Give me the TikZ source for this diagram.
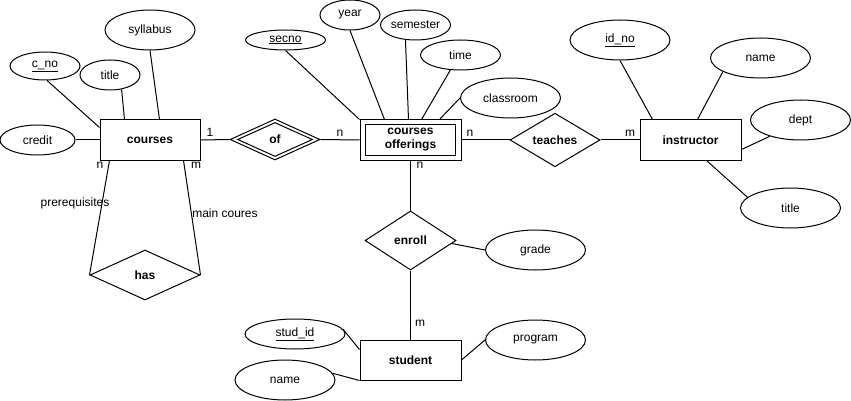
\documentclass[tikz,border=0pt]{standalone}
\usepackage{fontspec}
\setmainfont{Liberation Sans}
\usetikzlibrary{shapes.geometric,calc}
\newcommand\erfont{\fontsize{12}{14}\selectfont}
\tikzset{
  ent/.style={draw, rectangle, minimum width=100pt, minimum height=40pt, inner sep=0pt, font=\erfont\bfseries, align=center},
  attr/.style={draw, ellipse, inner sep=0pt, font=\erfont},
  rel/.style={draw, diamond, inner sep=0pt, font=\erfont\bfseries},
  lbl/.style={inner sep=0pt, font=\erfont},
  every path/.style={line width=1pt},
}
\begin{document}
\begin{tikzpicture}[x=1pt,y=-1pt]
\useasboundingbox (0,0) rectangle (851,401);
% entities
\node[ent] (courses) at (150,140) {courses};
\node[ent, minimum width=101pt] (offer) at (410.5,140) {courses\\offerings};
\node[draw, rectangle, minimum width=90pt, minimum height=30pt, inner sep=0pt] (offerin) at (410.5,140) {};
\node[ent, minimum width=101pt] (instr) at (690.5,140) {instructor};
\node[ent, minimum width=101pt] (student) at (410.5,360) {student};
% relationships
\node[rel, minimum width=90pt, minimum height=41pt] (of) at (275,139.5) {};
\node[rel, minimum width=75pt, minimum height=34pt, font=\erfont\bfseries] (ofin) at (275,139.5) {of};
\node[rel, minimum width=90pt, minimum height=40pt] (teaches) at (555,140) {teaches};
\node[rel, minimum width=91pt, minimum height=59pt] (enroll) at (410.5,240.5) {enroll};
\node[rel, minimum width=110pt, minimum height=50pt] (has) at (145,275) {has};
% attributes of courses
\node[attr, minimum width=75pt, minimum height=30pt] (credit) at (37.5,140) {credit};
\node[attr, minimum width=70pt, minimum height=28pt] (cno) at (45,66) {\underline{c\_no}};
\node[attr, minimum width=60pt, minimum height=30pt] (title) at (110,75) {title};
\node[attr, minimum width=90pt, minimum height=40pt] (syllabus) at (150,30) {syllabus};
% attributes of offerings
\node[attr, minimum width=80pt, minimum height=20pt] (secno) at (285.5,40) {\underline{secno}};
\node[attr, minimum width=60pt, minimum height=30pt] (year) at (350,15) {year};
\node[attr, minimum width=70pt, minimum height=30pt] (semester) at (415.5,25) {semester};
\node[attr, minimum width=80pt, minimum height=30pt] (time) at (460.5,55) {time};
\node[attr, minimum width=100pt, minimum height=40pt] (classroom) at (510.5,98) {classroom};
% attributes of instructor
\node[attr, minimum width=100pt, minimum height=40pt] (idno) at (620,40) {\underline{id\_no}};
\node[attr, minimum width=100pt, minimum height=40pt] (iname) at (760.5,58) {name};
\node[attr, minimum width=100pt, minimum height=40pt] (dept) at (800.5,120) {dept};
\node[attr, minimum width=100pt, minimum height=40pt] (ititle) at (790.5,208) {title};
% enroll / student attributes
\node[attr, minimum width=100pt, minimum height=40pt] (grade) at (535.5,250) {grade};
\node[attr, minimum width=100pt, minimum height=30pt] (studid) at (295,334) {\underline{stud\_id}};
\node[attr, minimum width=100pt, minimum height=40pt] (sname) at (285,380) {name};
\node[attr, minimum width=100pt, minimum height=40pt] (program) at (535.5,340) {program};
% connectors: courses
\draw (credit) -- (courses);
\draw (cno.-82) -- ($(courses.north west)+(0,8)$);
\draw (title.-51) -- ($(courses.north west)+(25,0)$);
\draw (syllabus.south) -- ($(courses.north west)+(60,0)$);
\draw (courses.east) -- (of.west);
\draw (of.east) -- (offer.west);
\draw (offer.east) -- (teaches.west);
\draw (teaches.east) -- (instr.west);
\draw (offer.south) -- (enroll.north);
\draw (enroll.south) -- (student.north);
\draw ($(enroll.east)!0.1!(enroll.south)$) -- (grade.west);
\draw ($(courses.south west)+(10,0)$) -- (has.west);
\draw ($(courses.south west)+(84,0)$) -- (has.east);
% connectors: offerings attributes
\draw (secno.south) -- (offer.north west);
\draw (year.south) -- ($(offer.north west)+(25,0)$);
\draw (semester.-124) -- ($(offer.north west)+(49,0)$);
\draw (time.-124) -- ($(offer.north west)+(62,0)$);
\draw (classroom.west) -- ($(offer.north west)+(80,0)$);
% connectors: instructor attributes
\draw (idno.south) -- ($(instr.north west)+(13,0)$);
\draw (iname.-160) -- ($(instr.north west)+(58,0)$);
\draw (dept.-152) -- ($(instr.north east)+(0,30)$);
\draw (ititle.166) -- ($(instr.south west)+(67,0)$);
% connectors: student attributes
\draw (studid.6) -- ($(student.north west)+(0,10)$);
\draw (sname.8) -- (student.south west);
\draw (program.west) -- (student.east);
% cardinality and role labels
\node[lbl] (c1) at (210,132) {1};
\node[lbl] (c2) at (340,133) {n};
\node[lbl] (c3) at (470,133) {n};
\node[lbl] (c4) at (630,133) {m};
\node[lbl] (c5) at (420,165) {n};
\node[lbl] (c6) at (420,323) {m};
\node[lbl] (c7) at (100,165) {n};
\node[lbl] (c8) at (196,165) {m};
\node[lbl] (pre) at (75,203) {prerequisites};
\node[lbl] (mainc) at (225,213) {main coures};
\end{tikzpicture}
\end{document}
